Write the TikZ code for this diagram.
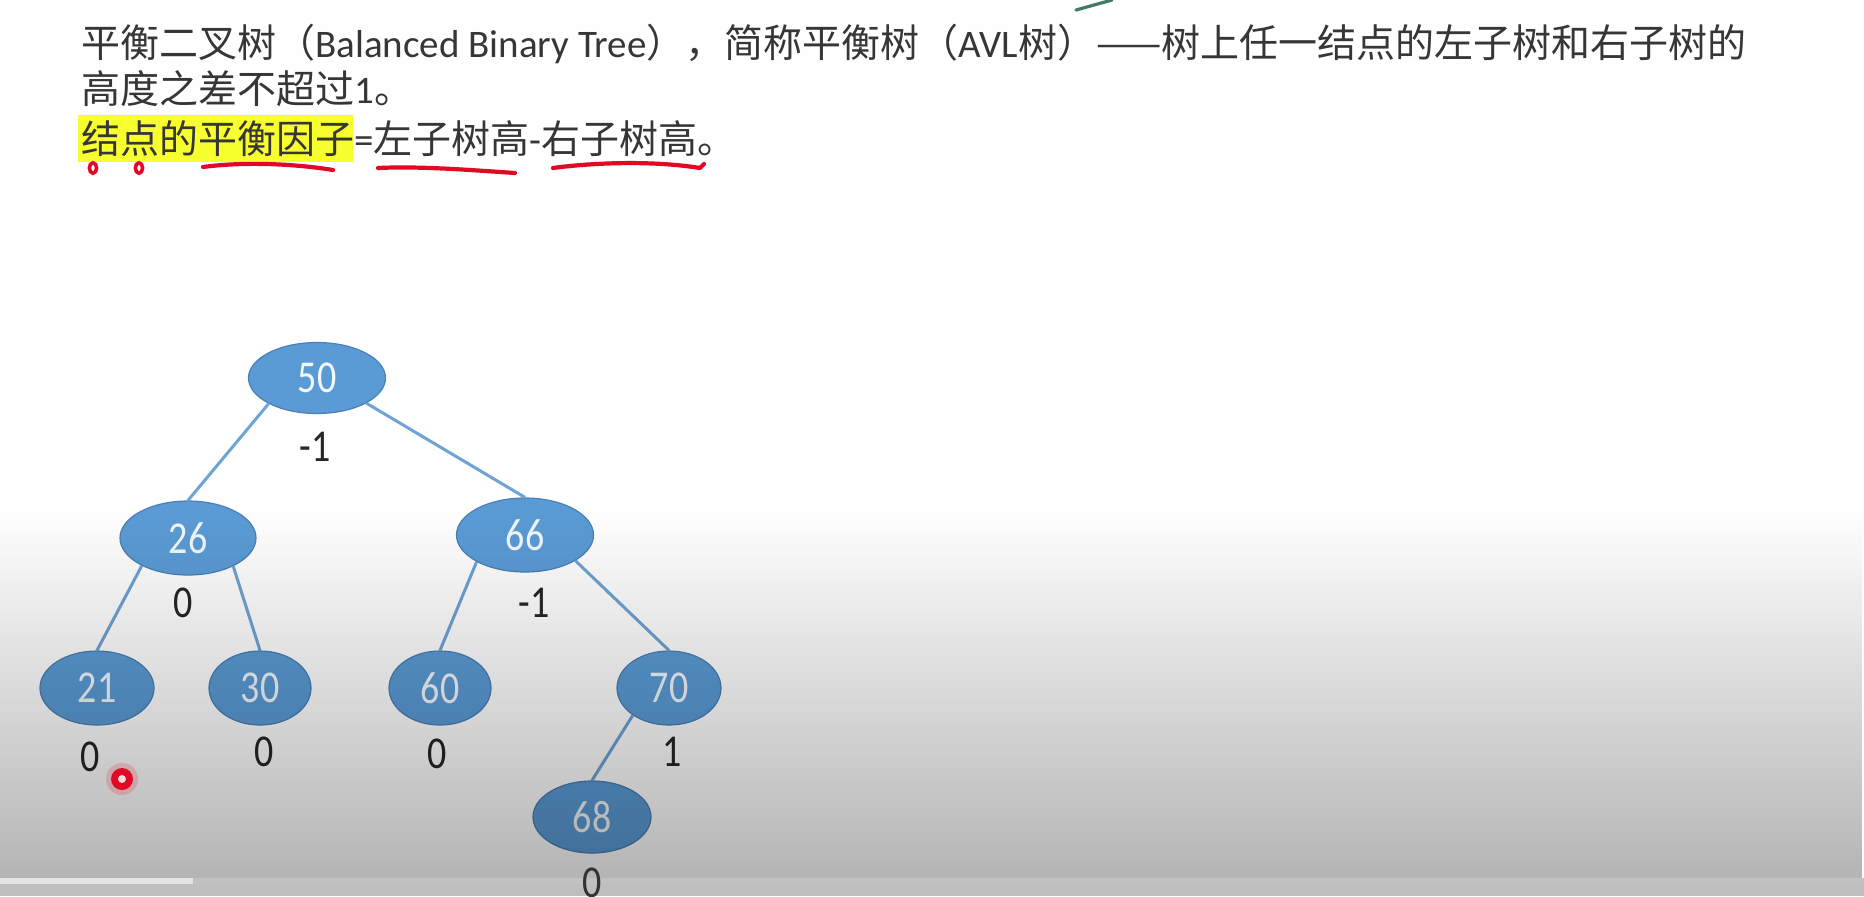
\documentclass[tikz,border=0pt]{standalone}
\usepackage{fontspec}
\usepackage{graphicx}
\setmainfont{Carlito}
\newfontfamily\cjk{Noto Sans CJK SC}
\usetikzlibrary{shapes.geometric,fadings}
\newcommand{\tallnum}[1]{\scalebox{1}[1.2]{#1}}
\definecolor{txt}{HTML}{363636}
\definecolor{nodefill}{HTML}{5B9BD5}
\definecolor{nodeedge}{HTML}{4A80B5}
\definecolor{edgecol}{HTML}{6FA3D3}
\definecolor{marker}{HTML}{E00A24}
\definecolor{hl}{HTML}{F7FF2E}
\definecolor{bgtop}{HTML}{FEFEFE}
\definecolor{bar}{HTML}{C1C1C1}
\definecolor{bardone}{HTML}{E4E4E4}
\definecolor{bgbelow}{HTML}{B3B3B3}
\definecolor{pen}{HTML}{3F7A62}
\tikzfading[name=overlayfade, top color=transparent!100, bottom color=transparent!0]
\begin{document}
\begin{tikzpicture}[x=0.5pt,y=-0.5pt,
  treenode/.style={ellipse, fill=nodefill, draw=nodeedge, line width=0.6pt, inner sep=0pt,
    text=white!92!nodefill, font=\fontsize{19pt}{19pt}\selectfont},
  bf/.style={inner sep=0pt, text=black!85, font=\fontsize{19pt}{19pt}\selectfont},
  link/.style={draw=edgecol, line width=1.5pt},
  textline/.style={anchor=base west, inner sep=0pt, text=txt, font=\fontsize{19.5pt}{19.5pt}\selectfont},
  redmark/.style={draw=marker, line width=2.1pt, line cap=round, line join=round}
]
% background
\useasboundingbox (0,0) rectangle (1864,896);
\fill[bgtop] (0,0) rectangle (1864,896);

% pen stroke at top
\draw[pen, line width=1.6pt, line cap=round] (1076,10) -- (1112,0);

% highlight
\fill[hl] (78,115) rectangle (353,162);

% text
\node[textline] (t1) at (81,57) {{\cjk 平衡二叉树（}Balanced Binary Tree{\cjk ），简称平衡树（}AVL{\cjk 树）——树上任一结点的左子树和右子树的}};
\node[textline] (t2) at (81,103) {{\cjk 高度之差不超过}1{\cjk 。}};
\node[textline] (t3) at (81,153) {{\cjk 结点的平衡因子}={\cjk 左子树高}-{\cjk 右子树高。}};

% red annotations
\draw[marker, line width=1.8pt] (93,168) ellipse [x radius=1.8pt, y radius=2.6pt];
\draw[marker, line width=1.8pt] (139,168) ellipse [x radius=1.8pt, y radius=2.6pt];
\draw[redmark] (203,167) .. controls (240,162) and (290,163) .. (333,170);
\draw[redmark] (378,168) .. controls (420,166) and (470,170) .. (515,173);
\draw[redmark] (553,168) .. controls (590,163) and (650,160) .. (700,168) -- (704,164);

% tree nodes
\node[treenode, minimum width=68.5pt, minimum height=35.5pt] (n50) at (317,378) {\tallnum{50}};
\node[treenode, minimum width=68pt, minimum height=37pt] (n26) at (188,538) {\tallnum{26}};
\node[treenode, minimum width=68.5pt, minimum height=37pt] (n66) at (525,535) {\tallnum{66}};
\node[treenode, minimum width=57pt, minimum height=37pt] (n21) at (97,688) {\tallnum{21}};
\node[treenode, minimum width=51pt, minimum height=37pt] (n30) at (260,688) {\tallnum{30}};
\node[treenode, minimum width=51pt, minimum height=37pt] (n60) at (440,688) {\tallnum{60}};
\node[treenode, minimum width=52pt, minimum height=37pt] (n70) at (669,688) {\tallnum{70}};
\node[treenode, minimum width=59pt, minimum height=36pt] (n68) at (592,817) {\tallnum{68}};

% edges
\draw[link] (n50.208) -- (n26.north);
\draw[link] (n50.333) -- (n66.north);
\draw[link] (n26.211) -- (n21.north);
\draw[link] (n26.328) -- (n30.north);
\draw[link] (n66.209) -- (n60.north);
\draw[link] (n66.333) -- (n70.north);
\draw[link] (n70.217) -- (n68.north);

% balance factors
\node[bf] (b50) at (315,447) {\tallnum{-1}};
\node[bf] (b26) at (183,603) {\tallnum{0}};
\node[bf] (b66) at (534,603) {\tallnum{-1}};
\node[bf] (b21) at (90,757) {\tallnum{0}};
\node[bf] (b30) at (264,752) {\tallnum{0}};
\node[bf] (b60) at (437,754) {\tallnum{0}};
\node[bf] (b70) at (672,752) {\tallnum{1}};

% player overlay gradient
\fill[black, fill opacity=0.29, path fading=overlayfade] (0,512) rectangle (1864,878);
\fill[bar] (0,878) rectangle (1864,884);
\fill[bardone] (0,878) rectangle (193,884);
\fill[bgbelow, fill opacity=0.85] (0,884) rectangle (1864,896);

% label that sits over the bar
\node[bf, text=black!80] (b68) at (592,883) {\tallnum{0}};

% cursor marker
\fill[marker, opacity=0.18] (122,779) circle[radius=8pt];
\fill[marker] (122,779) circle[radius=5.5pt];
\fill[white!85!marker] (122,779) circle[radius=2pt];
\end{tikzpicture}
\end{document}
